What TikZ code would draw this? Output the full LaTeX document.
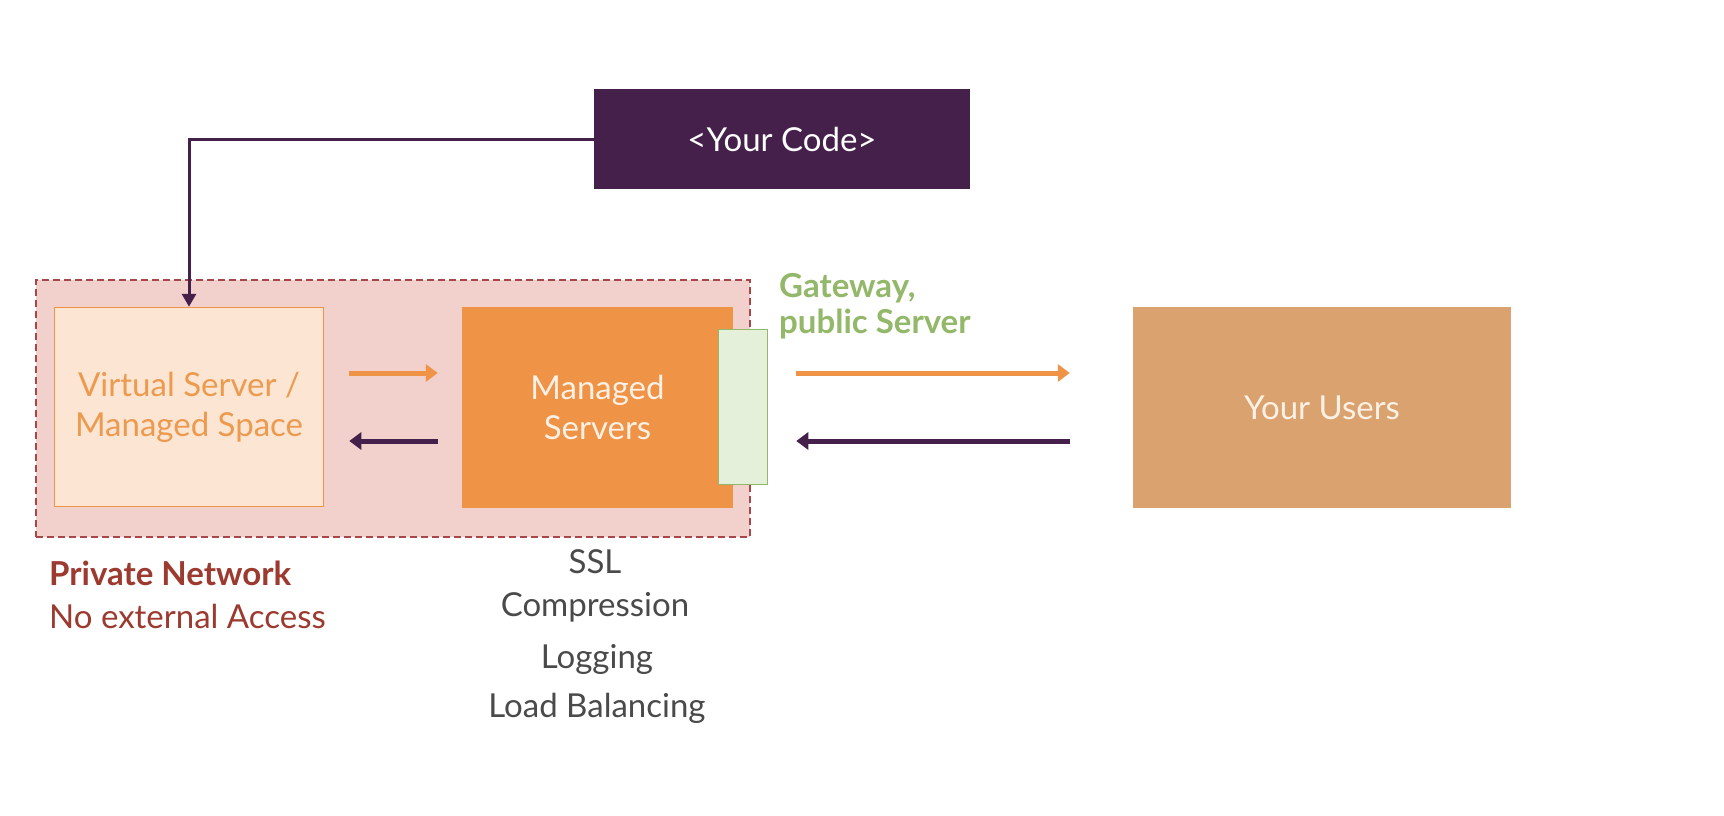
\documentclass[tikz,border=0pt]{standalone}
\usepackage{fontspec}
\setmainfont{Lato}
\usetikzlibrary{arrows.meta,calc}
\definecolor{cpurple}{HTML}{45204A}
\definecolor{corange}{HTML}{EF9346}
\definecolor{clight}{HTML}{FCE5D3}
\definecolor{cltext}{HTML}{EC9A4E}
\definecolor{cpink}{HTML}{F2D1CD}
\definecolor{cdash}{HTML}{A8474A}
\definecolor{cgreenf}{HTML}{E5F0DA}
\definecolor{cgreen}{HTML}{93B86A}
\definecolor{cusers}{HTML}{D9A26F}
\definecolor{cwhite}{HTML}{FDF0E4}
\definecolor{cred}{HTML}{9C3A2F}
\definecolor{cgray}{HTML}{4A4A4A}
\begin{document}
\begin{tikzpicture}[x=1pt,y=-1pt,
  box/.style={rectangle, inner sep=0pt, font=\fontsize{33}{40}\selectfont, align=center},
  oarrow/.style={draw=corange, line width=5pt, -{Triangle[length=12pt,width=17pt]}},
  parrow/.style={draw=cpurple, line width=5pt, -{Triangle[length=12pt,width=17pt]}},
  lbl/.style={inner sep=0pt, font=\fontsize{33}{40}\selectfont}]
\useasboundingbox[fill=white] (0,0) rectangle (1724,816);
% private network region
\node[rectangle, inner sep=0pt, fill=cpink, draw=cdash, dash pattern=on 7pt off 4pt, line width=2pt,
  minimum width=714pt, minimum height=257pt] (net) at (393,408.5) {};
% boxes
\node[box, fill=cpurple, text=white, minimum width=376pt, minimum height=100pt] (code) at (782,139) {<Your Code>};
\node[box, fill=clight, draw=corange, line width=1.5pt, text=cltext, minimum width=269pt, minimum height=199pt] (virt) at (189,407) {Virtual Server /\\Managed Space};
\node[box, fill=corange, text=cwhite, minimum width=271pt, minimum height=201pt] (ms) at (597.5,407.5) {Managed\\Servers};
\node[box, fill=cgreenf, draw=cgreen, line width=1.5pt, minimum width=49pt, minimum height=155pt] (gw) at (743,407) {};
\node[box, fill=cusers, text=cwhite, minimum width=378pt, minimum height=201pt] (users) at (1322,407.5) {Your Users};
% labels
\node[lbl, anchor=base west, text=cgreen, font=\fontsize{33}{40}\selectfont\bfseries] (gwl) at (779,297) {Gateway,};
\node[lbl, anchor=base west, text=cgreen, font=\fontsize{33}{40}\selectfont\bfseries] (gwl2) at (779,333) {public Server};
\node[lbl, anchor=base west, text=cred, font=\fontsize{33}{40}\selectfont\bfseries] (pn) at (49,585) {Private Network};
\node[lbl, anchor=base west, text=cred] (nea) at (49,628) {No external Access};
\node[lbl, anchor=base, text=cgray] (ssl) at (595,573) {SSL};
\node[lbl, anchor=base, text=cgray] (comp) at (595,616) {Compression};
\node[lbl, anchor=base, text=cgray] (log) at (597,668) {Logging};
\node[lbl, anchor=base, text=cgray] (lb) at (597,717) {Load Balancing};
% connectors
\draw[draw=cpurple, line width=3pt, -{Triangle[length=13pt,width=14pt]}] (code.west) -| (virt.north);
\draw[oarrow, shorten <=25pt, shorten >=24pt] (virt.east |- 0,373) -- (ms.west |- 0,373);
\draw[parrow, shorten <=24pt, shorten >=25pt] (ms.west |- 0,441) -- (virt.east |- 0,441);
\draw[oarrow, shorten <=28pt, shorten >=63pt] (gw.east |- 0,373) -- (users.west |- 0,373);
\draw[parrow, shorten <=63pt, shorten >=28pt] (users.west |- 0,441) -- (gw.east |- 0,441);
\end{tikzpicture}
\end{document}
